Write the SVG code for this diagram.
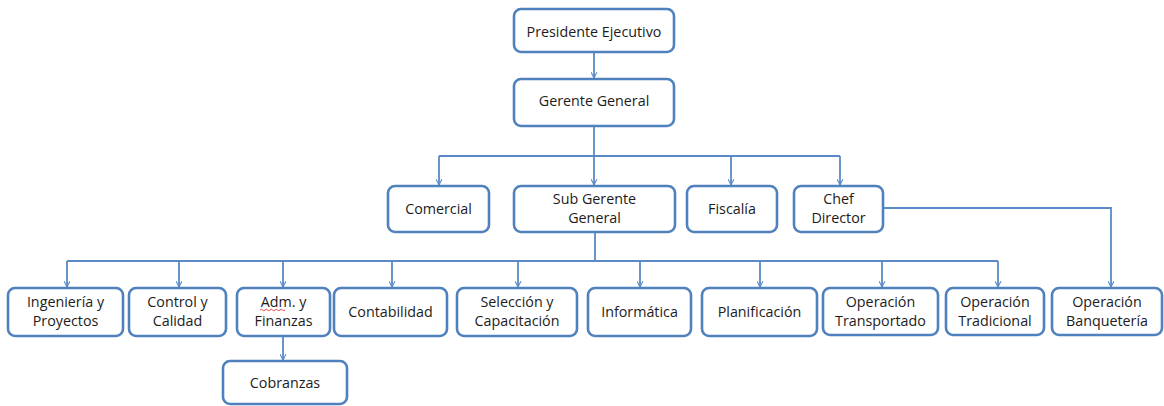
<svg xmlns="http://www.w3.org/2000/svg" width="1164" height="406" viewBox="0 0 1164 406">
  <style>
    .box { fill: #ffffff; stroke: #4f81bd; stroke-width: 2.6; }
    .lbl { font-family: "Open Sans", "Liberation Sans", sans-serif; font-size: 14.3px; fill: #1c1c1c; text-anchor: middle; }
    .wire { fill: none; stroke: #5a8ac6; stroke-width: 1.8; }
    .squiggle { fill: none; stroke: #e03030; stroke-width: 0.9; }
  </style>
  <defs>
    <marker id="arrow" viewBox="0 0 12 12" refX="11" refY="6" markerWidth="7" markerHeight="7" markerUnits="userSpaceOnUse" orient="auto">
      <path d="M1,1 L11,6 L1,11" fill="none" stroke="#5a8ac6" stroke-width="1.8"/>
    </marker>
  </defs>
  <rect width="1164" height="406" fill="#ffffff"/>

  <!-- connectors -->
  <g id="connectors">
    <path class="wire" d="M594,52 V78" marker-end="url(#arrow)"/>
    <path class="wire" d="M594,126 V156"/>
    <path class="wire" d="M439,156 H840"/>
    <path class="wire" d="M439,156 V185" marker-end="url(#arrow)"/>
    <path class="wire" d="M594,156 V185" marker-end="url(#arrow)"/>
    <path class="wire" d="M731,156 V185" marker-end="url(#arrow)"/>
    <path class="wire" d="M840,156 V185" marker-end="url(#arrow)"/>
    <path class="wire" d="M595,232 V261"/>
    <path class="wire" d="M67,261 H998"/>
    <path class="wire" d="M67,261 V287" marker-end="url(#arrow)"/>
    <path class="wire" d="M179,261 V287" marker-end="url(#arrow)"/>
    <path class="wire" d="M283,261 V287" marker-end="url(#arrow)"/>
    <path class="wire" d="M392,261 V287" marker-end="url(#arrow)"/>
    <path class="wire" d="M518,261 V287" marker-end="url(#arrow)"/>
    <path class="wire" d="M640,261 V287" marker-end="url(#arrow)"/>
    <path class="wire" d="M760,261 V287" marker-end="url(#arrow)"/>
    <path class="wire" d="M882,261 V287" marker-end="url(#arrow)"/>
    <path class="wire" d="M998,261 V287" marker-end="url(#arrow)"/>
    <path class="wire" d="M883,208 H1111 V287" marker-end="url(#arrow)"/>
    <path class="wire" d="M283,336 V360" marker-end="url(#arrow)"/>
  </g>

  <!-- level 0 -->
  <g id="presidente">
    <rect class="box" x="514" y="9" width="160" height="43" rx="7"/>
    <text class="lbl" x="594" y="37">Presidente Ejecutivo</text>
  </g>
  <g id="gerente">
    <rect class="box" x="514" y="79" width="160" height="47" rx="7"/>
    <text class="lbl" x="594" y="106">Gerente General</text>
  </g>

  <!-- level 1 -->
  <g id="comercial">
    <rect class="box" x="388" y="186" width="101" height="46" rx="7"/>
    <text class="lbl" x="438.5" y="214">Comercial</text>
  </g>
  <g id="subgerente">
    <rect class="box" x="514" y="186" width="161" height="46" rx="7"/>
    <text class="lbl" x="594.5" y="204">Sub Gerente</text>
    <text class="lbl" x="594.5" y="223">General</text>
  </g>
  <g id="fiscalia">
    <rect class="box" x="687" y="186" width="90" height="46" rx="7"/>
    <text class="lbl" x="732" y="214">Fiscalía</text>
  </g>
  <g id="chef">
    <rect class="box" x="794" y="186" width="89" height="46" rx="7"/>
    <text class="lbl" x="838.5" y="204">Chef</text>
    <text class="lbl" x="838.5" y="223">Director</text>
  </g>

  <!-- level 2 -->
  <g id="ingenieria">
    <rect class="box" x="8" y="288" width="115" height="48" rx="7"/>
    <text class="lbl" x="65.5" y="307">Ingeniería y</text>
    <text class="lbl" x="65.5" y="326">Proyectos</text>
  </g>
  <g id="control">
    <rect class="box" x="129" y="288" width="97" height="48" rx="7"/>
    <text class="lbl" x="177.5" y="307">Control y</text>
    <text class="lbl" x="177.5" y="326">Calidad</text>
  </g>
  <g id="adm">
    <rect class="box" x="237" y="288" width="93" height="48" rx="7"/>
    <text class="lbl" x="283.5" y="307">Adm. y</text>
    <text class="lbl" x="283.5" y="326">Finanzas</text>
    <path class="squiggle" d="M260,310 q1.25,-1.5 2.5,0 t2.5,0 t2.5,0 t2.5,0 t2.5,0 t2.5,0 t2.5,0 t2.5,0 t2.5,0 t2.5,0"/>
  </g>
  <g id="contabilidad">
    <rect class="box" x="334" y="288" width="113" height="48" rx="7"/>
    <text class="lbl" x="390.5" y="317">Contabilidad</text>
  </g>
  <g id="seleccion">
    <rect class="box" x="457" y="288" width="120" height="48" rx="7"/>
    <text class="lbl" x="517" y="307">Selección y</text>
    <text class="lbl" x="517" y="326">Capacitación</text>
  </g>
  <g id="informatica">
    <rect class="box" x="588" y="288" width="103" height="48" rx="7"/>
    <text class="lbl" x="639.5" y="317">Informática</text>
  </g>
  <g id="planificacion">
    <rect class="box" x="702" y="288" width="115" height="48" rx="7"/>
    <text class="lbl" x="759.5" y="317">Planificación</text>
  </g>
  <g id="transportado">
    <rect class="box" x="823" y="288" width="115" height="47" rx="7"/>
    <text class="lbl" x="880.5" y="307">Operación</text>
    <text class="lbl" x="880.5" y="326">Transportado</text>
  </g>
  <g id="tradicional">
    <rect class="box" x="946" y="288" width="98" height="47" rx="7"/>
    <text class="lbl" x="995" y="307">Operación</text>
    <text class="lbl" x="995" y="326">Tradicional</text>
  </g>
  <g id="banqueteria">
    <rect class="box" x="1052" y="288" width="110" height="47" rx="7"/>
    <text class="lbl" x="1107" y="307">Operación</text>
    <text class="lbl" x="1107" y="326">Banquetería</text>
  </g>

  <!-- level 3 -->
  <g id="cobranzas">
    <rect class="box" x="223" y="361" width="124" height="43" rx="7"/>
    <text class="lbl" x="285" y="388">Cobranzas</text>
  </g>
</svg>
